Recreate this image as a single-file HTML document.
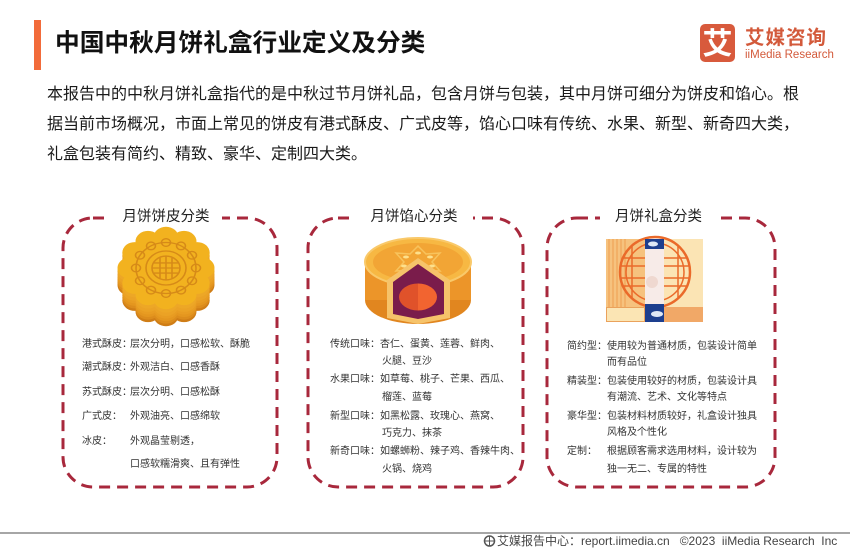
<!DOCTYPE html>
<html><head><meta charset="utf-8"><style>
body{margin:0;width:850px;height:553px;overflow:hidden;background:#fff;position:relative;font-family:"Liberation Sans","Noto Sans CJK SC",sans-serif;}
.a{position:absolute;white-space:nowrap;}
.t{font-size:10px;line-height:14px;color:#333;}
.bt{position:absolute;background:#fff;text-align:center;font-size:14.5px;line-height:18px;color:#222;top:208px;}
</style></head><body>
<svg width="850" height="553" viewBox="0 0 850 553" style="position:absolute;left:0;top:0">
<defs>
<g id="fl">
<circle r="37"/>
<circle cx="36" cy="0" r="12.5"/><circle cx="31.18" cy="18" r="12.5"/><circle cx="18" cy="31.18" r="12.5"/>
<circle cx="0" cy="36" r="12.5"/><circle cx="-18" cy="31.18" r="12.5"/><circle cx="-31.18" cy="18" r="12.5"/>
<circle cx="-36" cy="0" r="12.5"/><circle cx="-31.18" cy="-18" r="12.5"/><circle cx="-18" cy="-31.18" r="12.5"/>
<circle cx="0" cy="-36" r="12.5"/><circle cx="18" cy="-31.18" r="12.5"/><circle cx="31.18" cy="-18" r="12.5"/>
</g>
</defs>
<!-- title bar -->
<rect x="34" y="20" width="7" height="50" fill="#f26b3a"/>
<!-- logo -->
<rect x="700" y="24" width="35" height="38" rx="5" fill="#d85a3c"/>
<text x="717.5" y="54" font-size="30" font-weight="bold" fill="#fff" text-anchor="middle" font-family="Liberation Sans, Noto Sans CJK SC, sans-serif">艾</text>
<!-- dashed boxes -->
<g fill="none" stroke="#a8283c" stroke-width="3" stroke-dasharray="11 7">
<rect x="63" y="218" width="214" height="269" rx="30"/>
<rect x="308" y="218" width="215" height="269" rx="30"/>
<rect x="547" y="218" width="228" height="269" rx="30"/>
</g>
<!-- mooncake 1 -->
<g transform="translate(166,268) scale(1,0.85)">
<use href="#fl" y="20" fill="#cf7d16"/>
<use href="#fl" y="17" fill="#dc8c1c"/>
<use href="#fl" y="14" fill="#e4961f"/>
<use href="#fl" y="11" fill="#e89c22"/>
<use href="#fl" y="8" fill="#eba225"/>
<use href="#fl" y="4" fill="#eda726"/>
<use href="#fl" fill="#f2b21f"/>
<g fill="none" stroke="#d68a18" stroke-width="1.6">
<circle r="30"/>
<circle r="20"/>
<circle r="14"/>
<circle cx="30" cy="0" r="4.5"/><circle cx="26" cy="15" r="4.5"/><circle cx="15" cy="26" r="4.5"/>
<circle cx="0" cy="30" r="4.5"/><circle cx="-15" cy="26" r="4.5"/><circle cx="-26" cy="15" r="4.5"/>
<circle cx="-30" cy="0" r="4.5"/><circle cx="-26" cy="-15" r="4.5"/><circle cx="-15" cy="-26" r="4.5"/>
<circle cx="0" cy="-30" r="4.5"/><circle cx="15" cy="-26" r="4.5"/><circle cx="26" cy="-15" r="4.5"/>
<line x1="-14" y1="0" x2="14" y2="0"/><line x1="0" y1="-14" x2="0" y2="14"/>
<line x1="-12" y1="-6" x2="12" y2="-6"/><line x1="-12" y1="6" x2="12" y2="6"/>
<line x1="-6" y1="-12" x2="-6" y2="12"/><line x1="6" y1="-12" x2="6" y2="12"/>
</g>
</g>
<!-- mooncake 2 -->
<ellipse cx="418" cy="300" rx="53" ry="24" fill="#e1861f"/>
<rect x="365" y="262" width="106" height="38" fill="#ec9529"/>
<ellipse cx="418" cy="262" rx="53" ry="24" fill="#f7b843" stroke="#f9c96a" stroke-width="2"/>
<ellipse cx="418" cy="262" rx="45" ry="19" fill="#f2a535"/>
<polygon points="418,246 426,254 440,253 432,262 440,271 426,270 418,278 410,270 396,271 404,262 396,253 410,254" fill="none" stroke="#f8c35c" stroke-width="1.5"/>
<g fill="#fde08c">
<ellipse cx="418" cy="253" rx="3" ry="1.5"/><ellipse cx="430" cy="257" rx="3" ry="1.5"/><ellipse cx="406" cy="257" rx="3" ry="1.5"/>
<ellipse cx="432" cy="266" rx="3" ry="1.5"/><ellipse cx="404" cy="266" rx="3" ry="1.5"/>
</g>
<polygon points="418,258 450,280 450,318 418,324 387,318 387,280" fill="#f6c36a"/>
<polygon points="418,264 444,282 444,314 418,319 393,314 393,282" fill="#7a1c4b"/>
<path d="M418,283.5 A19,13.5 0 0 0 418,310.5 Z" fill="#e0522a"/>
<path d="M418,283.5 A19,13.5 0 0 1 418,310.5 Z" fill="#f26430"/>
<!-- gift box -->
<rect x="606" y="239" width="97" height="83" fill="#f8dca0"/>
<rect x="606" y="239" width="39" height="68" fill="#f6c27e"/>
<g stroke="#ee9d50" stroke-width="1">
<line x1="609" y1="239" x2="609" y2="307"/><line x1="613" y1="239" x2="613" y2="307"/><line x1="617" y1="239" x2="617" y2="307"/>
<line x1="621" y1="239" x2="621" y2="307"/><line x1="625" y1="239" x2="625" y2="307"/>
</g>
<rect x="664" y="239" width="39" height="68" fill="#fbe4b4"/>
<g fill="none" stroke="#ea6a2a">
<circle cx="655" cy="272" r="35" stroke-width="2.5"/>
<circle cx="655" cy="272" r="29" stroke-width="1.5"/>
<line x1="622" y1="258" x2="688" y2="258" stroke-width="1.5"/>
<line x1="620" y1="266" x2="690" y2="266" stroke-width="1.5"/>
<line x1="620" y1="278" x2="690" y2="278" stroke-width="1.5"/>
<line x1="622" y1="286" x2="688" y2="286" stroke-width="1.5"/>
<line x1="632" y1="245" x2="632" y2="299" stroke-width="1.5"/>
<line x1="678" y1="245" x2="678" y2="299" stroke-width="1.5"/>
</g>
<rect x="606.5" y="307.5" width="38" height="14" fill="#fbe5b4" stroke="#eaa25c"/>
<rect x="664" y="307" width="39" height="15" fill="#f1a867"/>
<rect x="645" y="239" width="19" height="83" fill="#1d3f8e"/>
<rect x="645" y="249" width="19" height="55" fill="#f7ebe8"/>
<circle cx="652" cy="282" r="6" fill="#efd8d0"/>
<g fill="#dfe8f5"><ellipse cx="653" cy="244" rx="5" ry="2.5"/><ellipse cx="657" cy="314" rx="6" ry="3"/></g>
<!-- footer -->
<rect x="0" y="532" width="850" height="2" fill="#a6a6a6"/>
<circle cx="489.5" cy="541" r="5" fill="none" stroke="#555" stroke-width="1.5"/>
<line x1="485" y1="541" x2="494" y2="541" stroke="#555"/><line x1="489.5" y1="536" x2="489.5" y2="546" stroke="#555"/>
</svg>

<div class="a" style="left:55px;top:29px;font-size:24.7px;line-height:30px;font-weight:bold;color:#111;">中国中秋月饼礼盒行业定义及分类</div>
<div class="a" style="left:745px;top:26px;font-size:19.5px;line-height:24px;font-weight:bold;color:#d35a3b;letter-spacing:1px;">艾媒咨询</div>
<div class="a" style="left:745px;top:48px;font-size:11.5px;line-height:14px;color:#d35a3b;">iiMedia Research</div>

<div class="a" style="left:47px;top:80px;font-size:16px;line-height:30px;color:#1a1a1a;">本报告中的中秋月饼礼盒指代的是中秋过节月饼礼品，包含月饼与包装，其中月饼可细分为饼皮和馅心。根<br>据当前市场概况，市面上常见的饼皮有港式酥皮、广式皮等，馅心口味有传统、水果、新型、新奇四大类，<br>礼盒包装有简约、精致、豪华、定制四大类。</div>

<div class="bt" style="left:110px;width:112px;">月饼饼皮分类</div>
<div class="bt" style="left:355px;width:118px;">月饼馅心分类</div>
<div class="bt" style="left:600px;width:117px;">月饼礼盒分类</div>

<!-- box 1 -->
<div class="a t" style="left:82px;top:338px;">港式酥皮：</div><div class="a t" style="left:130px;top:338px;">层次分明，口感松软、酥脆</div>
<div class="a t" style="left:82px;top:361px;">潮式酥皮：</div><div class="a t" style="left:130px;top:361px;">外观洁白、口感香酥</div>
<div class="a t" style="left:82px;top:386px;">苏式酥皮：</div><div class="a t" style="left:130px;top:386px;">层次分明、口感松酥</div>
<div class="a t" style="left:82px;top:410px;">广式皮：</div><div class="a t" style="left:130px;top:410px;">外观油亮、口感绵软</div>
<div class="a t" style="left:82px;top:435px;">冰皮：</div><div class="a t" style="left:130px;top:435px;">外观晶莹剔透，</div>
<div class="a t" style="left:130px;top:458px;">口感软糯滑爽、且有弹性</div>

<!-- box 2 -->
<div class="a t" style="left:330px;top:338px;">传统口味：</div><div class="a t" style="left:380px;top:338px;">杏仁、蛋黄、莲蓉、鲜肉、</div>
<div class="a t" style="left:382px;top:355px;">火腿、豆沙</div>
<div class="a t" style="left:330px;top:373px;">水果口味：</div><div class="a t" style="left:380px;top:373px;">如草莓、桃子、芒果、西瓜、</div>
<div class="a t" style="left:382px;top:391px;">榴莲、蓝莓</div>
<div class="a t" style="left:330px;top:410px;">新型口味：</div><div class="a t" style="left:380px;top:410px;">如黑松露、玫瑰心、燕窝、</div>
<div class="a t" style="left:382px;top:427px;">巧克力、抹茶</div>
<div class="a t" style="left:330px;top:445px;">新奇口味：</div><div class="a t" style="left:380px;top:445px;">如螺蛳粉、辣子鸡、香辣牛肉、</div>
<div class="a t" style="left:382px;top:463px;">火锅、烧鸡</div>

<!-- box 3 -->
<div class="a t" style="left:567px;top:340px;">简约型：</div><div class="a t" style="left:607px;top:340px;">使用较为普通材质，包装设计简单</div>
<div class="a t" style="left:607px;top:356px;">而有品位</div>
<div class="a t" style="left:567px;top:375px;">精装型：</div><div class="a t" style="left:607px;top:375px;">包装使用较好的材质，包装设计具</div>
<div class="a t" style="left:607px;top:391px;">有潮流、艺术、文化等特点</div>
<div class="a t" style="left:567px;top:410px;">豪华型：</div><div class="a t" style="left:607px;top:410px;">包装材料材质较好，礼盒设计独具</div>
<div class="a t" style="left:607px;top:426px;">风格及个性化</div>
<div class="a t" style="left:567px;top:445px;">定制：</div><div class="a t" style="left:607px;top:445px;">根据顾客需求选用材料，设计较为</div>
<div class="a t" style="left:607px;top:463px;">独一无二、专属的特性</div>

<div class="a" style="left:497px;top:533px;font-size:12px;line-height:16px;color:#444;">艾媒报告中心：report.iimedia.cn&nbsp;&nbsp;&nbsp;©2023&nbsp;&nbsp;iiMedia Research&nbsp;&nbsp;Inc</div>
</body></html>
